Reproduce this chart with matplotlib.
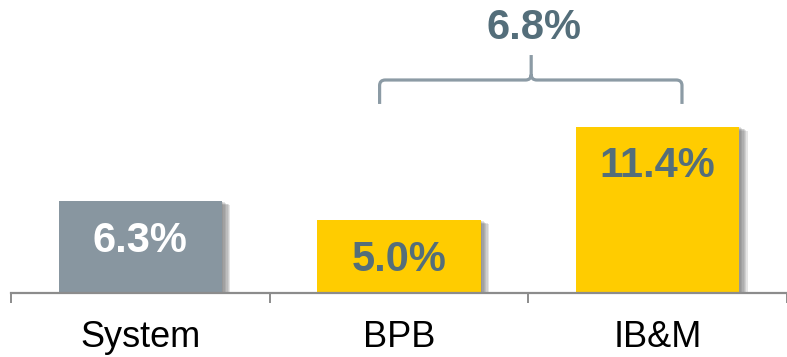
import matplotlib
matplotlib.use("Agg")
import matplotlib.pyplot as plt
from matplotlib.patches import PathPatch
from matplotlib.path import Path
import matplotlib.patheffects as pe

# Data
categories = ["System", "BPB", "IB&M"]
values = [6.3, 5.0, 11.4]
value_labels = ["6.3%", "5.0%", "11.4%"]
bar_colors = ["#8896A0", "#FFCC00", "#FFCC00"]
label_colors = ["#FFFFFF", "#546E7A", "#546E7A"]
gap_label = "6.8%"

plt.rcParams["font.family"] = ["Liberation Sans", "DejaVu Sans"]

W, H, DPI = 787, 357, 100
fig = plt.figure(figsize=(W / DPI, H / DPI), dpi=DPI)
ax = fig.add_axes([11 / W, 64 / H, 776 / W, 293 / H])
ax.set_xlim(-0.5, 2.473)
ax.set_ylim(0, 20.07)

# Soft drop shadow behind each bar
shadow = [pe.SimplePatchShadow(offset=(d, -0.5 * d), shadow_rgbFace="#666666", alpha=0.17)
          for d in (1.0, 2.0, 3.0, 4.0, 5.0, 6.0)]
bars = ax.bar(range(len(categories)), values, width=0.632, color=bar_colors, zorder=3)
for b in bars:
    b.set_path_effects(shadow + [pe.Normal()])

for i, (v, lab, c) in enumerate(zip(values, value_labels, label_colors)):
    ax.annotate(lab, (i, v), xytext=(0, -28.5), textcoords="offset points",
                ha="center", va="center", fontsize=30, fontweight="bold",
                color=c, zorder=5)

# Axis styling
for s in ("top", "right", "left"):
    ax.spines[s].set_visible(False)
ax.spines["bottom"].set_color("#8c8c8c")
ax.spines["bottom"].set_linewidth(1.6)
ax.spines["bottom"].set_zorder(4)
ax.set_yticks([])
ax.set_xticks(range(len(categories)))
ax.set_xticklabels(categories, fontsize=26, color="black")
ax.tick_params(axis="x", which="major", length=0, pad=19.5)
ax.set_xticks([-0.5, 0.5, 1.5, 2.5], minor=True)
ax.tick_params(axis="x", which="minor", length=7.5, width=1.4, color="#8c8c8c", direction="out")

# Curly bracket spanning BPB and IB&M
xl, xr, xm = 0.925, 2.094, 1.511
yb, yh, yt = 12.95, 14.59, 16.3
rx, ry = 0.022, 0.38
verts = [
    (xl, yb), (xl, yh - ry), (xl, yh), (xl + rx, yh),
    (xm - rx, yh), (xm, yh), (xm, yh + ry), (xm, yt),
    (xm, yh + ry), (xm, yh), (xm + rx, yh),
    (xr - rx, yh), (xr, yh), (xr, yh - ry), (xr, yb),
]
codes = [Path.MOVETO, Path.LINETO, Path.CURVE3, Path.CURVE3,
         Path.LINETO, Path.CURVE3, Path.CURVE3, Path.LINETO,
         Path.MOVETO, Path.CURVE3, Path.CURVE3,
         Path.LINETO, Path.CURVE3, Path.CURVE3, Path.LINETO]
ax.add_patch(PathPatch(Path(verts, codes), facecolor="none", edgecolor="#8C9BA5",
                       linewidth=2.3, capstyle="butt", joinstyle="round", zorder=4))
ax.text(xm + 0.012, 18.15, gap_label, ha="center", va="center", fontsize=30,
        fontweight="bold", color="#546E7A", zorder=5)

fig.savefig("out.png", dpi=DPI)
